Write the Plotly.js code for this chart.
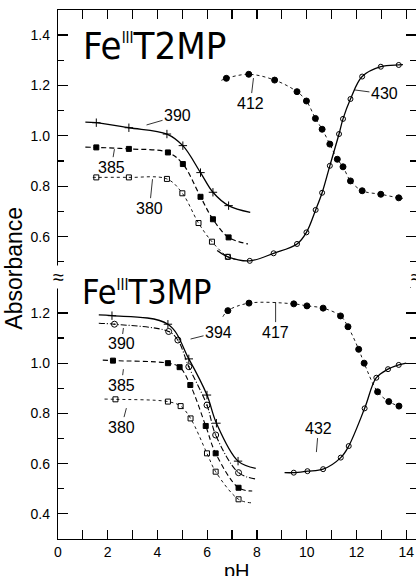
<!DOCTYPE html>
<html>
<head>
<meta charset="utf-8">
<script src="https://cdn.plot.ly/plotly-3.0.1.min.js"></script>
<style>html,body{margin:0;padding:0;background:#fff}#chart{width:416px;height:576px}</style>
</head>
<body>
<div id="chart"></div>
<script>
// ---------- DATA ----------
// Fe(III)T2MP panel (top)
const t2_390_ph  = [1.54, 2.85, 4.38, 5.02, 5.73, 6.23, 6.86];
const t2_390_abs = [1.052, 1.032, 1.007, 0.961, 0.854, 0.776, 0.723];
const t2_390_ends = [[1.1, 1.054], [7.73, 0.696]];

const t2_385_ph  = [1.54, 2.85, 4.42, 5.02, 5.73, 6.23, 6.86];
const t2_385_abs = [0.954, 0.948, 0.934, 0.888, 0.758, 0.669, 0.597];
const t2_385_ends = [[1.1, 0.955], [7.64, 0.571]];

const t2_380_ph  = [1.54, 2.85, 4.38, 5.0, 5.65, 6.19, 6.83];
const t2_380_abs = [0.835, 0.835, 0.829, 0.772, 0.654, 0.580, 0.520];
const t2_380_ends = [[1.4, 0.835], [7.25, 0.508]];

const t2_430_ph  = [6.83, 7.71, 8.67, 9.61, 9.99, 10.36, 10.62, 10.93, 11.3, 11.46, 11.76, 12.23, 12.98, 13.7];
const t2_430_abs = [0.52, 0.504, 0.534, 0.571, 0.617, 0.706, 0.774, 0.881, 1.007, 1.067, 1.146, 1.235, 1.274, 1.281];
const t2_430_ends = [[6.4, 0.545], [13.87, 1.282]];

const t2_412_ph  = [6.77, 7.67, 8.71, 9.61, 9.99, 10.35, 10.62, 10.93, 11.23, 11.46, 11.76, 12.23, 12.98, 13.7];
const t2_412_abs = [1.228, 1.244, 1.221, 1.175, 1.138, 1.069, 1.026, 0.967, 0.907, 0.877, 0.821, 0.782, 0.768, 0.754];
const t2_412_ends = [[6.57, 1.22], [13.87, 0.752]];

// Fe(III)T3MP panel (bottom)
const t3_394_ph  = [2.17, 4.42, 5.26, 5.99, 6.37, 7.24];
const t3_394_abs = [1.189, 1.155, 1.017, 0.873, 0.761, 0.610];
const t3_394_ends = [[1.64, 1.192], [7.95, 0.581]];

const t3_390_ph  = [2.27, 4.45, 4.82, 5.26, 5.99, 6.34, 7.26];
const t3_390_abs = [1.155, 1.126, 1.092, 0.986, 0.833, 0.714, 0.564];
const t3_390_ends = [[1.64, 1.159], [7.95, 0.539]];

const t3_385_ph  = [2.21, 4.42, 4.89, 5.32, 5.94, 6.34, 7.26];
const t3_385_abs = [1.01, 1.0, 0.984, 0.913, 0.75, 0.641, 0.504];
const t3_385_ends = [[1.8, 1.012], [7.81, 0.491]];

const t3_380_ph  = [2.31, 4.42, 4.93, 5.33, 5.99, 6.34, 7.26];
const t3_380_abs = [0.856, 0.847, 0.829, 0.78, 0.641, 0.568, 0.458];
const t3_380_ends = [[1.87, 0.857], [7.77, 0.444]];

const t3_417_ph  = [6.83, 7.68, 9.48, 10.01, 10.66, 11.36, 11.66, 12.09, 12.31, 12.85, 13.3, 13.71];
const t3_417_abs = [1.209, 1.239, 1.236, 1.228, 1.219, 1.188, 1.145, 1.055, 1.0, 0.886, 0.847, 0.829];
const t3_417_ends = [[6.63, 1.185], [13.85, 0.826]];

const t3_432_ph  = [9.48, 10.03, 10.66, 11.37, 11.69, 12.33, 12.8, 13.27, 13.7];
const t3_432_abs = [0.564, 0.570, 0.578, 0.624, 0.670, 0.820, 0.942, 0.976, 0.993];
const t3_432_ends = [[9.11, 0.564], [14.0, 1.0]];

// Curve labels (wavelengths, nm)
const topLabels    = ["390", "385", "380", "412", "430"];
const bottomLabels = ["394", "417", "390", "385", "380", "432"];
const xTickVals = [0, 2, 4, 6, 8, 10, 12, 14];

// ---------- BUILD ----------
const FONT = "'Liberation Sans', Arial, sans-serif";
const NARROW = "'Liberation Sans Narrow', 'DejaVu Sans Condensed', 'Arial Narrow', sans-serif";

function series(ph, ab, ends, xa, ya, sym, msize, dash, lw) {
  const lx = [ends[0][0]].concat(ph, [ends[1][0]]);
  const ly = [ends[0][1]].concat(ab, [ends[1][1]]);
  return [
    {x: lx, y: ly, xaxis: xa, yaxis: ya, mode: 'lines', hoverinfo: 'skip',
     line: {color: '#000', width: lw, dash: dash, shape: 'spline', smoothing: 1}},
    {x: ph, y: ab, xaxis: xa, yaxis: ya, mode: 'markers',
     marker: {symbol: sym, size: msize, color: '#000', line: {color: '#000', width: 1}}}
  ];
}

const traces = [].concat(
  series(t2_390_ph, t2_390_abs, t2_390_ends, 'x2', 'y2', 'cross-thin-open', 6, 'solid', 1.3),
  series(t2_385_ph, t2_385_abs, t2_385_ends, 'x2', 'y2', 'square', 5, '5px,3px', 1.2),
  series(t2_380_ph, t2_380_abs, t2_380_ends, 'x2', 'y2', 'square-open', 5, 'dot', 0.9),
  series(t2_430_ph, t2_430_abs, t2_430_ends, 'x2', 'y2', 'circle-open', 5, 'solid', 1.3),
  series(t2_412_ph, t2_412_abs, t2_412_ends, 'x2', 'y2', 'circle', 6, 'dot', 0.9),
  series(t3_394_ph, t3_394_abs, t3_394_ends, 'x', 'y', 'cross-thin-open', 6, 'solid', 1.3),
  series(t3_390_ph, t3_390_abs, t3_390_ends, 'x', 'y', 'circle-open-dot', 6, '6px,2px,1px,2px', 1.1),
  series(t3_385_ph, t3_385_abs, t3_385_ends, 'x', 'y', 'square', 5, '5px,3px', 1.1),
  series(t3_380_ph, t3_380_abs, t3_380_ends, 'x', 'y', 'square-open', 5, 'dot', 0.9),
  series(t3_417_ph, t3_417_abs, t3_417_ends, 'x', 'y', 'circle', 6, 'dot', 0.9),
  series(t3_432_ph, t3_432_abs, t3_432_ends, 'x', 'y', 'circle-open', 5, 'solid', 1.3)
);

function lab(text, x, y, ax, ay, xr, yr) {
  return {text: text, x: x, y: y, xref: xr, yref: yr, ax: ax, ay: ay,
    showarrow: true, arrowhead: 0, arrowwidth: 0.8, arrowcolor: '#000', standoff: 0,
    font: {family: FONT, size: 16, color: '#000'}};
}
const topTips = [[3.56, 1.043, 31, -9], [2.27, 0.947, -3, 18], [3.80, 0.828, -3, 29], [7.86, 1.229, -3, 25], [11.92, 1.182, 30, 4]];
const botTips = [[5.33, 1.096, 28, -7], [8.75, 1.243, 0, 30], [2.63, 1.140, -2, 16], [2.63, 0.976, -2, 16], [2.75, 0.821, -5, 19], [10.39, 0.646, 2, -24]];

const annotations = [];
topLabels.forEach((t, i) => annotations.push(lab(t, topTips[i][0], topTips[i][1], topTips[i][2], topTips[i][3], 'x2', 'y2')));
bottomLabels.forEach((t, i) => annotations.push(lab(t, botTips[i][0], botTips[i][1], botTips[i][2], botTips[i][3], 'x', 'y')));

const titleSup = '<sup><span style="font-size:15px">III</span></sup>';
annotations.push(
  {text: 'Fe' + titleSup + 'T2MP', xref: 'paper', yref: 'paper', x: 0.064, y: 0.932,
   xanchor: 'left', yanchor: 'middle', showarrow: false, font: {family: NARROW, size: 38, color: '#000'}},
  {text: 'Fe' + titleSup + 'T3MP', xref: 'paper', yref: 'paper', x: 0.061, y: 0.467,
   xanchor: 'left', yanchor: 'middle', showarrow: false, font: {family: NARROW, size: 34, color: '#000'}},
  {text: 'Absorbance', xref: 'paper', yref: 'paper', x: -0.1215, y: 0.512, textangle: -90,
   xanchor: 'center', yanchor: 'middle', showarrow: false, font: {family: FONT, size: 23, color: '#000'}},
  {text: 'pH', xref: 'paper', yref: 'paper', x: 0.5, y: -0.06, xanchor: 'center', yanchor: 'middle',
   showarrow: false, font: {family: FONT, size: 20, color: '#000'}},
  {text: '≈', xref: 'paper', yref: 'paper', x: 0, y: 0.4953, xanchor: 'center', yanchor: 'middle',
   showarrow: false, bgcolor: '#fff', borderpad: 0, font: {family: FONT, size: 20, color: '#000'}},
  {text: '≈', xref: 'paper', yref: 'paper', x: 1, y: 0.4953, xanchor: 'center', yanchor: 'middle',
   showarrow: false, bgcolor: '#fff', borderpad: 0, font: {family: FONT, size: 20, color: '#000'}}
);

const axisCommon = {showgrid: false, zeroline: false, showline: true, linecolor: '#000', linewidth: 1.2,
  ticks: 'inside', tickcolor: '#000', tickwidth: 1.2, tickfont: {family: FONT, size: 14, color: '#000'}};

const layout = {
  width: 416, height: 576, margin: {l: 58, r: 0, t: 10, b: 37},
  paper_bgcolor: '#fff', plot_bgcolor: '#fff', showlegend: false,
  font: {family: FONT, color: '#000'},
  xaxis: Object.assign({}, axisCommon, {domain: [0, 1], range: [0, 14.395], anchor: 'y',
    tickvals: xTickVals, ticklen: 9, minor: {dtick: 1, ticks: 'inside', ticklen: 9, tickcolor: '#000', tickwidth: 1.2}}),
  xaxis2: Object.assign({}, axisCommon, {domain: [0, 1], range: [0, 14.395], anchor: 'y2', matches: 'x',
    side: 'top', showticklabels: false, dtick: 1, ticklen: 9}),
  yaxis: Object.assign({}, axisCommon, {domain: [0, 0.4953], range: [0.3, 1.343], anchor: 'x',
    dtick: 0.2, tick0: 0, tickformat: '.1f', ticklen: 10, mirror: 'ticks', ticklabelstandoff: 4,
    minor: {dtick: 0.1, ticks: 'inside', ticklen: 6, tickcolor: '#000', tickwidth: 1.2}}),
  yaxis2: Object.assign({}, axisCommon, {domain: [0.4953, 1], range: [0.44, 1.499], anchor: 'x2',
    dtick: 0.2, tick0: 0, tickformat: '.1f', ticklen: 10, mirror: 'ticks', ticklabelstandoff: 4,
    minor: {dtick: 0.1, ticks: 'inside', ticklen: 6, tickcolor: '#000', tickwidth: 1.2}}),
  annotations: annotations
};

Plotly.newPlot('chart', traces, layout, {staticPlot: true, displayModeBar: false});
</script>
</body>
</html>
